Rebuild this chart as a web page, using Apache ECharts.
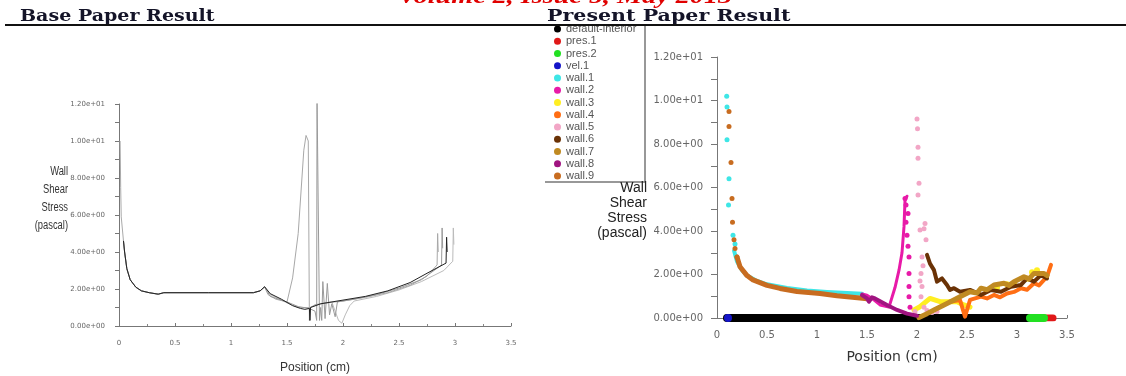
<!DOCTYPE html>
<html><head><meta charset="utf-8">
<script src="https://cdn.jsdelivr.net/npm/echarts@6/dist/echarts.min.js"></script>
<style>html,body{margin:0;padding:0;background:#fff}#c{width:1126px;height:376px}</style>
</head><body><div id="c"></div>
<script>
// ---------- tick labels ----------
const yTickLabels = ['0.00e+00','2.00e+00','4.00e+00','6.00e+00','8.00e+00','1.00e+01','1.20e+01'];
const xTickLabels = ['0','0.5','1','1.5','2','2.5','3','3.5'];

// ---------- Base paper (left) curves ----------
const leftCommon = [[0.04,4.6],[0.05,4.0],[0.07,3.1],[0.1,2.5],[0.15,2.1],[0.2,1.9],[0.27,1.8],[0.35,1.72],[0.4,1.8],[0.8,1.8],[1.2,1.8],[1.26,1.9],[1.3,2.12]];
const leftStart = [[0.01,10],[0.015,7.5],[0.02,5.9],[0.03,5.8],[0.04,4.6]];
const leftSpikeA = [[1.33,1.7],[1.4,1.45],[1.5,1.3],[1.55,2.6],[1.6,5.0],[1.65,9.5],[1.67,10.3],[1.69,10.0],[1.70,0.3],[1.71,1.0],[1.75,1.15],[1.85,1.25],[2.0,1.35],[2.2,1.55],[2.4,1.8],[2.6,2.2],[2.75,2.7],[2.84,3.3],[2.845,5.0],[2.85,4.0]];
const leftSpikeB = [[1.35,1.6],[1.5,1.3],[1.6,1.05],[1.7,0.95],[1.75,0.8],[1.765,0.3],[1.768,12.5],[1.785,12.5],[1.79,0.3],[1.8,1.0],[1.81,0.3],[1.82,2.4],[1.84,0.4],[1.86,2.3],[1.88,0.6],[1.9,1.2],[1.93,0.5],[1.95,1.3],[2.1,1.45],[2.3,1.7],[2.5,2.05],[2.7,2.5],[2.88,3.3],[2.885,5.3],[2.89,4.2]];
const leftBlack = [[1.35,1.75],[1.45,1.45],[1.55,1.1],[1.62,0.95],[1.66,0.9],[1.7,0.95],[1.705,0.3],[1.71,1.0],[1.8,1.2],[1.9,1.3],[2.0,1.4],[2.2,1.6],[2.4,1.9],[2.6,2.35],[2.75,2.85],[2.92,3.4],[2.925,4.8],[2.93,4.0]];
const leftDip = [[1.35,1.7],[1.5,1.25],[1.6,1.0],[1.7,1.0],[1.8,1.2],[1.9,1.3],[1.93,0.8],[1.96,0.3],[1.99,0.15],[2.02,0.6],[2.06,1.1],[2.1,1.35],[2.3,1.6],[2.5,1.95],[2.7,2.4],[2.9,3.0],[2.98,3.5],[2.985,5.3],[2.99,4.4]];

// ---------- Present paper (right) series ----------
const legendNames = ['default-interior','pres.1','pres.2','vel.1','wall.1','wall.2','wall.3','wall.4','wall.5','wall.6','wall.7','wall.8','wall.9'];
const interiorBand = [[0.1,0],[3.12,0]];
const pres1Band = [[3.27,0],[3.36,0]];
const pres2Band = [[3.13,0],[3.27,0]];
const vel1Dots = [[0.11,0]];
const wall1Dots = [[0.097,10.2],[0.10,9.7],[0.10,8.2],[0.12,6.4],[0.115,5.2],[0.16,3.8],[0.18,3.4]];
const wall1Band = [[0.17,3.1],[0.2,2.6],[0.25,2.2],[0.3,1.95],[0.4,1.7],[0.5,1.55],[0.7,1.38],[0.9,1.27],[1.1,1.2],[1.3,1.15],[1.45,1.12]];
const wall9Dots = [[0.12,9.5],[0.12,8.8],[0.14,7.15],[0.15,5.5],[0.155,4.4],[0.17,3.6],[0.18,3.2],[0.2,2.8]];
const wall9Band = [[0.2,2.8],[0.23,2.36],[0.3,1.95],[0.36,1.75],[0.5,1.5],[0.63,1.36],[0.8,1.22],[1.03,1.13],[1.2,1.02],[1.43,0.92],[1.5,0.88]];
const wall8Band = [[1.45,1.05],[1.5,0.9],[1.52,0.75],[1.55,0.95],[1.58,0.9],[1.64,0.75],[1.7,0.6],[1.8,0.37],[1.9,0.2],[2.0,0.1]];
const wall2Band = [[1.45,1.1],[1.5,1.05],[1.55,0.9],[1.63,0.6],[1.72,0.5],[1.78,1.4],[1.82,2.2],[1.85,3.0],[1.87,4.2],[1.88,5.4],[1.9,5.6]];
const wall2Dots = [[1.91,4.8],[1.89,4.4],[1.9,3.8],[1.91,3.3],[1.92,2.8],[1.92,2.05],[1.92,1.45],[1.92,0.98],[1.93,0.5],[1.88,5.5],[1.89,5.2]];
const wall5Dots = [[2.0,9.15],[2.005,8.7],[2.01,7.85],[2.01,7.35],[2.02,6.2],[2.01,5.65],[2.03,4.05],[2.08,4.35],[2.09,3.6],[2.07,4.1],[2.05,2.8],[2.04,2.05],[2.05,1.45],[2.04,0.98],[2.07,0.5],[1.98,0.3],[2.1,0.35],[2.15,0.25],[2.2,0.3],[2.03,1.7],[2.06,2.4]];
const wall3Band = [[1.97,0.37],[2.03,0.52],[2.13,0.9],[2.23,0.75],[2.4,0.75],[2.47,0.6],[2.53,0.5]];
const wall3Dots = [[2.8,1.4],[2.97,1.6],[3.1,1.8],[3.2,2.2],[3.15,2.1],[2.9,1.55]];
const wall4Band = [[2.33,0.75],[2.4,0.8],[2.43,0.83],[2.48,0.06],[2.53,0.83],[2.64,0.98],[2.7,0.9],[2.77,1.06],[2.83,0.95],[2.9,1.13],[2.97,1.2],[3.04,1.37],[3.1,1.3],[3.17,1.6],[3.22,1.5],[3.27,1.75],[3.3,1.9],[3.34,2.44]];
const wall6Band = [[2.1,2.9],[2.13,2.5],[2.17,2.2],[2.2,1.67],[2.25,1.82],[2.3,1.52],[2.33,1.29],[2.37,1.37],[2.43,1.21],[2.53,1.29],[2.64,1.06],[2.74,1.29],[2.84,1.21],[2.94,1.44],[3.04,1.52],[3.1,1.82],[3.17,1.67],[3.24,1.98],[3.3,1.82]];
const wall7Band = [[2.02,0.02],[2.1,0.2],[2.17,0.37],[2.3,0.67],[2.43,0.98],[2.53,1.21],[2.6,1.15],[2.64,1.37],[2.7,1.3],[2.77,1.52],[2.87,1.6],[2.92,1.5],[2.97,1.67],[3.07,1.9],[3.12,1.8],[3.17,2.05],[3.27,2.05],[3.3,1.95]];

const C = {
  'default-interior':'#000000','pres.1':'#e01818','pres.2':'#22e022','vel.1':'#1414c8',
  'wall.1':'#3ee6e6','wall.2':'#e81aa8','wall.3':'#ffee22','wall.4':'#ff6e14','wall.5':'#f2a6c6',
  'wall.6':'#6a3206','wall.7':'#c08a22','wall.8':'#a01480','wall.9':'#c86c20'
};

function lineL(data, color, z){
  return {type:'line', xAxisIndex:0, yAxisIndex:0, data, symbol:'none', z,
    lineStyle:{color, width:1}, silent:true};
}
function band(name, data, width, z){
  return {type:'line', name, xAxisIndex:1, yAxisIndex:1, data, symbol:'none', z: z||2,
    lineStyle:{color:C[name], width, cap:'round', join:'round'}, itemStyle:{color:C[name]}};
}
function dots(name, data, size, z){
  return {type:'scatter', name, xAxisIndex:1, yAxisIndex:1, data, symbol:'circle', symbolSize:size, z: z||3,
    itemStyle:{color:C[name], opacity:1}};
}

const series = [
  lineL(leftStart, '#aaaaaa', 2),
  lineL(leftCommon.concat(leftDip), '#bbbbbb', 2),
  lineL(leftCommon.concat(leftSpikeA), '#a8a8a8', 3),
  lineL(leftCommon.concat(leftSpikeB), '#9a9a9a', 3),
  lineL(leftCommon.concat(leftBlack), '#222222', 4),

  band('default-interior', interiorBand, 8, 2),
  band('pres.1', pres1Band, 7, 3),
  band('pres.2', pres2Band, 8, 3),
  dots('vel.1', vel1Dots, 8, 4),
  band('wall.1', wall1Band, 4, 3),
  dots('wall.1', wall1Dots, 5, 3),
  band('wall.2', wall2Band, 3, 4),
  dots('wall.2', wall2Dots, 5, 4),
  band('wall.3', wall3Band, 5, 3),
  dots('wall.3', wall3Dots, 6, 3),
  band('wall.4', wall4Band, 4, 4),
  dots('wall.5', wall5Dots, 5, 3),
  band('wall.6', wall6Band, 4, 4),
  band('wall.7', wall7Band, 5, 5),
  band('wall.8', wall8Band, 4, 5),
  band('wall.9', wall9Band, 5, 3),
  dots('wall.9', wall9Dots, 5, 3)
];

function yAxisBase(grid, fontSize, margin, tickLen){
  return {type:'value', gridIndex:grid, min:0, max:12, interval:2,
    axisLine:{show:true, lineStyle:{color:'#777', width:1}},
    axisTick:{show:true, length:tickLen, lineStyle:{color:'#777'}},
    minorTick:{show:true, splitNumber:2, length:tickLen, lineStyle:{color:'#777'}},
    splitLine:{show:false},
    axisLabel:{fontFamily:'DejaVu Sans', fontSize, color:'#666', margin,
      formatter:v=>yTickLabels[Math.round(v/2)]}};
}
function xAxisBase(grid, fontSize, margin, name, nameSize, nameGap, nameFont){
  return {type:'value', gridIndex:grid, min:0, max:3.5, interval:0.5,
    axisLine:{show:true, onZero:false, lineStyle:{color:'#777', width:1}},
    axisTick:{show:true, length:3, inside:true, lineStyle:{color:'#777'}},
    minorTick:{show:grid===0, splitNumber:2, length:2, lineStyle:{color:'#888'}},
    splitLine:{show:false},
    axisLabel:{fontFamily:'DejaVu Sans', fontSize, color:'#666', margin,
      formatter:v=>xTickLabels[Math.round(v*2)]},
    name, nameLocation:'middle', nameGap,
    nameTextStyle:{fontFamily:nameFont, fontSize:nameSize, color:'#333'}};
}

const option = {
  animation:false,
  backgroundColor:'#ffffff',
  grid:[{left:119, top:104, width:392, height:222, outerBoundsMode:'none', containLabel:false},
        {left:717, top:57, width:350, height:261, outerBoundsMode:'none', containLabel:false}],
  xAxis:[xAxisBase(0, 7, 13.5, 'Position (cm)', 12, 35.5, 'Liberation Sans'),
         xAxisBase(1, 10, 12, 'Position (cm)', 14, 32, 'DejaVu Sans')],
  yAxis:[yAxisBase(0, 7, 14, 4), yAxisBase(1, 10, 14, 6)],
  legend:{data:legendNames, orient:'vertical', left:549, top:18, icon:'circle',
    itemWidth:7, itemHeight:7, itemGap:0.25, selectedMode:false,
    textStyle:{fontFamily:'Liberation Sans', fontSize:11, color:'#555', lineHeight:12,
      width:78, overflow:'truncate', ellipsis:''}},
  graphic:[
    {type:'text', x:398, y:-14, scaleX:1.28, z:10, style:{text:'Volume 2, Issue 5, May 2013', fill:'#e00000',
      font:'italic bold 22px "Liberation Serif"'}},
    {type:'text', x:20, y:8, scaleX:1.12, z:10, style:{text:'Base Paper Result', fill:'#141428',
      font:'bold 17px "DejaVu Serif"'}},
    {type:'text', x:547, y:8, scaleX:1.21, z:10, style:{text:'Present Paper Result', fill:'#141428',
      font:'bold 17px "DejaVu Serif"'}},
    {type:'line', z:10, shape:{x1:5, y1:25, x2:1126, y2:25}, style:{stroke:'#111', lineWidth:2}},
    {type:'polyline', z:10, shape:{points:[[645,26],[645,182],[545,182]]}, style:{stroke:'#777', lineWidth:1.5, fill:null}},
    {type:'text', z:10, x:68, y:163, scaleX:0.78, style:{text:'Wall\nShear\nStress\n(pascal)', fill:'#333',
      font:'12px "Liberation Sans"', align:'right', lineHeight:18}},
    {type:'text', z:10, x:647, y:181, style:{text:'Wall\nShear\nStress\n(pascal)', fill:'#222',
      font:'14px "Liberation Sans"', align:'right', lineHeight:15}}
  ],
  series
};
const chart = echarts.init(document.getElementById('c'), null, {renderer:'canvas'});
chart.setOption(option);
</script></body></html>
